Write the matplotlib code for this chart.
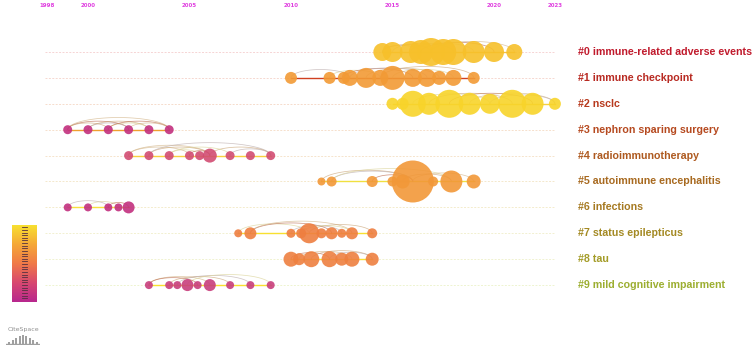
import numpy as np
import matplotlib
matplotlib.use("Agg")
import matplotlib.pyplot as plt
from matplotlib.colors import LinearSegmentedColormap

# ---------------- data ----------------
cluster_labels = ["#0 immune-related adverse events", "#1 immune checkpoint", "#2 nsclc",
                  "#3 nephron sparing surgery", "#4 radioimmunotherapy", "#5 autoimmune encephalitis",
                  "#6 infections", "#7 status epilepticus", "#8 tau", "#9 mild cognitive impairment"]
label_colors = ["#C01A2C", "#B82A22", "#B83A1E", "#B64A20", "#AE5A20", "#A86A20",
                "#A67A22", "#A48A24", "#A49C28", "#9CAE30"]
node_colors = ["#F7C02A", "#F29A35", "#F8D42A", "#C2307E", "#D24C72", "#F29838",
               "#C2307E", "#EE7E40", "#EE8040", "#C83E7C"]
tick_years = [1998, 2000, 2005, 2010, 2015, 2020, 2023]

c0_years = [2014.5, 2015.0, 2015.9, 2016.4, 2016.9, 2017.5, 2018.0, 2019.0, 2020.0, 2021.0]
c0_size = [9, 10, 11, 12, 14, 13, 13, 11, 10, 8]
c1_years = [2010.0, 2011.9, 2012.6, 2012.9, 2013.7, 2014.4, 2015.0, 2016.0, 2016.7, 2017.3, 2018.0, 2019.0]
c1_size = [6, 6, 6, 8, 10, 8, 12, 9, 9, 7, 8, 6]
c2_years = [2015.0, 2015.5, 2016.0, 2016.8, 2017.8, 2018.8, 2019.8, 2020.9, 2021.9, 2023.0]
c2_size = [6, 6, 13, 11, 14, 11, 10, 14, 11, 6]
c3_years = [1999.0, 2000.0, 2001.0, 2002.0, 2003.0, 2004.0]
c3_size = [4.5, 4.5, 4.5, 4.5, 4.5, 4.5]
c4_years = [2002.0, 2003.0, 2004.0, 2005.0, 2005.5, 2006.0, 2007.0, 2008.0, 2009.0]
c4_size = [4.5, 4.5, 4.5, 4.5, 4.5, 7, 4.5, 4.5, 4.5]
c5_years = [2011.5, 2012.0, 2014.0, 2015.0, 2015.5, 2016.0, 2017.0, 2017.9, 2019.0]
c5_size = [4, 5, 5.5, 5, 7, 21, 5, 11, 7]
c6_years = [1999.0, 2000.0, 2001.0, 2001.5, 2002.0]
c6_size = [4, 4, 4, 4, 6]
c7_years = [2007.4, 2008.0, 2010.0, 2010.5, 2010.9, 2011.5, 2012.0, 2012.5, 2013.0, 2014.0]
c7_size = [4, 6, 4.5, 5, 10, 5, 6, 4.5, 6, 5]
c8_years = [2010.0, 2010.4, 2011.0, 2011.9, 2012.5, 2013.0, 2014.0]
c8_size = [7.5, 6, 8, 8, 6.5, 7.5, 6.5]
c9_years = [2003.0, 2004.0, 2004.4, 2004.9, 2005.4, 2006.0, 2007.0, 2008.0, 2009.0]
c9_size = [4, 4, 4, 6, 4, 6, 4, 4, 4]

c0_edges = [(0, 4), (1, 6), (2, 7), (3, 8), (4, 9), (0, 3)]
c1_edges = [(0, 3), (1, 5), (2, 7), (4, 9), (5, 11), (3, 8), (6, 10)]
c2_edges = [(2, 6), (4, 8), (5, 9), (3, 7), (6, 9)]
c3_edges = [(0, 3), (0, 5), (1, 4), (1, 3), (2, 4), (2, 5), (3, 5), (0, 2)]
c4_edges = [(0, 5), (1, 5), (1, 8), (2, 4), (3, 5), (0, 3), (5, 8), (6, 8), (2, 6)]
c5_edges = [(0, 5), (1, 5), (1, 7), (2, 5), (5, 8), (4, 7)]
c6_edges = [(0, 2), (1, 3), (2, 4)]
c7_edges = [(0, 4), (1, 6), (1, 8), (4, 9), (2, 7), (3, 8)]
c8_edges = [(0, 3), (1, 5), (2, 6), (3, 6)]
c9_edges = [(0, 5), (1, 6), (2, 7), (3, 8), (0, 4)]

# ---------------- layout ----------------
years_all = [c0_years, c1_years, c2_years, c3_years, c4_years, c5_years, c6_years, c7_years, c8_years, c9_years]
sizes_all = [c0_size, c1_size, c2_size, c3_size, c4_size, c5_size, c6_size, c7_size, c8_size, c9_size]
edges_all = [c0_edges, c1_edges, c2_edges, c3_edges, c4_edges, c5_edges, c6_edges, c7_edges, c8_edges, c9_edges]
link_colors = ["#F5C040", "#D04020", "#F5D040", "#F0A030", "#F8D040", "#F0E040",
               "#F8E040", "#F8E030", "#F8E030", "#F8E030"]
base_colors = ["#F6D4D4", "#F6D8D0", "#F6DCCC", "#F6E0CC", "#F6E4CC", "#F4E8CC",
               "#F4ECCC", "#F2F0D0", "#F0F2D0", "#EEF4D0"]
arc_palette = ["#C8A070", "#B8A8A8", "#D8D090", "#B86040", "#D0B080"]

W, H = 753, 347
px_per_year = 20.3
x0_px, year0 = 88, 2000
row0_px, row_px = 52, 25.9

fig = plt.figure(figsize=(W / 100, H / 100), dpi=100)
ax = fig.add_axes([0, 0, 1, 1])
ax.set_xlim(year0 - x0_px / px_per_year, year0 + (W - x0_px) / px_per_year)
ax.set_ylim((H - row0_px) / row_px, -row0_px / row_px)
ax.axis("off")

def s_of(r):
    return (1.44 * r) ** 2

x_start = year0 + (45 - x0_px) / px_per_year
x_end = 2023.0
for i in range(10):
    ax.plot([x_start, x_end], [i, i], color=base_colors[i], lw=0.7, ls=(0, (2, 1.5)), zorder=1)
    yrs = np.array(years_all[i])
    rs = np.array(sizes_all[i], dtype=float)
    ax.plot([yrs.min(), yrs.max()], [i, i], color=link_colors[i], lw=1.0, zorder=2)
    for k, (a, b) in enumerate(edges_all[i]):
        xa, xb = yrs[a], yrs[b]
        span = abs(xb - xa)
        h = min(0.12 + 0.07 * span, 0.5)
        t = np.linspace(0, np.pi, 60)
        xs = (xa + xb) / 2 - (xb - xa) / 2 * np.cos(t)
        ys = i - h * np.sin(t)
        ax.plot(xs, ys, color=arc_palette[(i + k) % len(arc_palette)], lw=0.55, alpha=0.65, zorder=2)
    order = np.argsort(-rs)
    ax.scatter(yrs[order], np.full(len(yrs), i), s=s_of(rs[order]), color=node_colors[i],
               alpha=0.9, edgecolors="none", zorder=3)
    ax.text(year0 + (578 - x0_px) / px_per_year, i, cluster_labels[i], color=label_colors[i],
            fontsize=7.7, fontweight="bold", family="Liberation Sans", va="center", ha="left", zorder=4)

for ty in tick_years:
    ax.text(ty, -row0_px / row_px + 6 / row_px, str(ty), color="#E040E0", fontsize=4,
            fontweight="bold", ha="center", va="center")

# colour bar
cax = fig.add_axes([12 / W, 1 - 302 / H, 25 / W, 77 / H])
cmap = LinearSegmentedColormap.from_list("cs", ["#B8288E", "#D84870", "#F07A48", "#F5A838", "#F8E030"])
grad = np.linspace(0, 1, 200).reshape(-1, 1)
cax.imshow(grad, aspect="auto", cmap=cmap, origin="lower", extent=[0, 1, 0, 1])
for yy in np.linspace(0.05, 0.97, 28):
    cax.plot([0.4, 0.6], [yy, yy], color="#553040", lw=0.6)
cax.set_xlim(0, 1)
cax.set_ylim(0, 1)
cax.axis("off")

# CiteSpace logo
fig.text(23 / W, 1 - 329 / H, "CiteSpace", fontsize=4.5, color="#909090", ha="center", va="center")
lax = fig.add_axes([6 / W, 1 - 345 / H, 34 / W, 11 / H])
bx = [0.1, 0.2, 0.3, 0.4, 0.5, 0.6, 0.7, 0.8, 0.9]
bh = [0.3, 0.45, 0.6, 0.8, 0.9, 0.8, 0.6, 0.45, 0.3]
lax.bar(bx, bh, width=0.06, color="#A0A0A0")
lax.plot([0, 1], [0.05, 0.05], color="#A0A0A0", lw=1)
lax.set_xlim(0, 1)
lax.set_ylim(0, 1)
lax.axis("off")

fig.savefig("out.png", dpi=100)
